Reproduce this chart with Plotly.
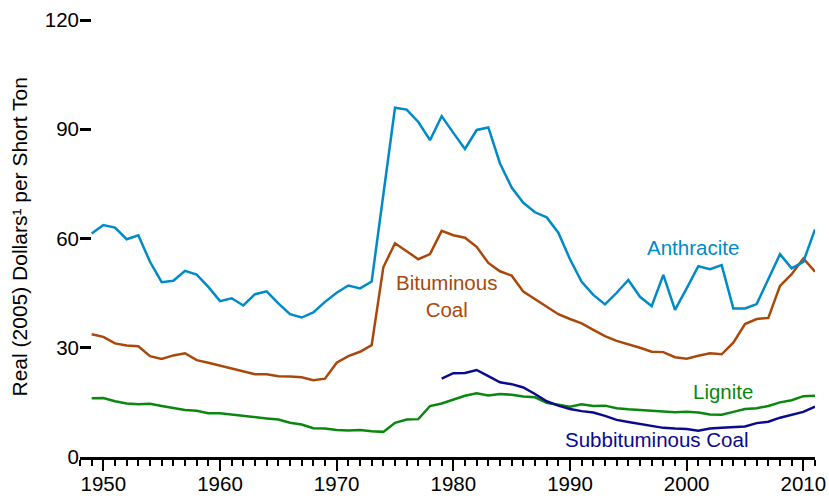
import plotly.graph_objects as go

years = list(range(1949, 2012))

anthracite = [61.4, 63.7, 63.0, 59.8, 60.9, 53.6, 48.0, 48.4, 51.1, 50.1,
              46.7, 42.8, 43.6, 41.6, 44.7, 45.5, 42.2, 39.2, 38.3, 39.7,
              42.6, 45.1, 47.1, 46.3, 48.2, 72.0, 95.9, 95.4, 92.0, 87.0,
              93.6, 89.0, 84.6, 89.8, 90.5, 80.6, 74.0, 69.8, 67.2, 65.8,
              61.6, 54.3, 48.1, 44.5, 41.9, 45.1, 48.6, 44.0, 41.4, 50.0,
              40.4, 46.3, 52.4, 51.6, 52.7, 40.8, 40.8, 42.0, 48.8, 55.7,
              51.8, 53.6, 62.5]

bituminous = [33.7, 33.0, 31.2, 30.6, 30.4, 27.7, 26.9, 27.9, 28.5, 26.6,
              25.9, 25.1, 24.2, 23.4, 22.7, 22.7, 22.2, 22.1, 21.9, 21.1,
              21.5, 25.9, 27.7, 28.9, 30.7, 52.1, 58.7, 56.5, 54.3, 55.7,
              62.1, 60.9, 60.2, 57.7, 53.3, 51.0, 49.8, 45.4, 43.3, 41.1,
              39.2, 37.9, 36.7, 34.9, 33.2, 31.9, 31.0, 30.0, 28.9, 28.8,
              27.4, 27.0, 27.8, 28.5, 28.2, 31.4, 36.5, 37.9, 38.2, 47.0,
              50.2, 54.5, 50.9]

lignite = [16.1, 16.2, 15.3, 14.7, 14.5, 14.6, 14.0, 13.5, 12.9, 12.7,
           12.0, 12.0, 11.6, 11.3, 10.9, 10.6, 10.3, 9.4, 8.9, 7.9,
           7.8, 7.4, 7.3, 7.4, 7.1, 6.9, 9.4, 10.3, 10.4, 14.0,
           14.7, 15.8, 16.8, 17.5, 16.9, 17.3, 17.1, 16.6, 16.4, 14.9,
           14.3, 13.8, 14.5, 14.0, 14.1, 13.4, 13.1, 12.9, 12.6, 12.4,
           12.3, 12.4, 12.2, 11.7, 11.6, 12.4, 13.2, 13.4, 14.0, 15.0,
           15.6, 16.7, 16.8]

sub_years = list(range(1979, 2012))
subbituminous = [21.5, 23.0, 23.1, 23.9, 22.2, 20.5, 20.0, 19.1, 17.3, 15.3,
                 14.1, 13.2, 12.6, 12.2, 11.3, 10.2, 9.6, 9.1, 8.5, 8.0,
                 7.8, 7.7, 7.2, 7.8, 8.0, 8.2, 8.4, 9.3, 9.7, 10.8,
                 11.7, 12.4, 13.8]

y_ticks = [0, 30, 60, 90, 120]

C_ANTH = "rgb(0,138,200)"
C_BIT = "rgb(170,72,12)"
C_LIG = "rgb(10,135,15)"
C_SUB = "rgb(10,10,140)"

fig = go.Figure()
fig.add_trace(go.Scatter(x=years, y=lignite, mode="lines",
                         line=dict(color=C_LIG, width=2.5), name="Lignite"))
fig.add_trace(go.Scatter(x=sub_years, y=subbituminous, mode="lines",
                         line=dict(color=C_SUB, width=2.5), name="Subbituminous Coal"))
fig.add_trace(go.Scatter(x=years, y=bituminous, mode="lines",
                         line=dict(color=C_BIT, width=2.5), name="Bituminous Coal"))
fig.add_trace(go.Scatter(x=years, y=anthracite, mode="lines",
                         line=dict(color=C_ANTH, width=2.5), name="Anthracite"))

font_family = "Liberation Sans, Arial, sans-serif"

fig.update_layout(
    width=829, height=498,
    margin=dict(l=80, r=14, t=18, b=41),
    paper_bgcolor="white", plot_bgcolor="white",
    showlegend=False,
    font=dict(family=font_family, color="black"),
    xaxis=dict(
        range=[1948, 2011], showgrid=False, zeroline=False, automargin=False,
        showline=True, linecolor="black", linewidth=2.5,
        ticks="outside", tick0=1950, dtick=10, ticklen=11, tickwidth=2,
        tickcolor="black", tickfont=dict(size=20.5, family=font_family),
        ticklabelstandoff=-4,
        minor=dict(dtick=1, tick0=1948, ticks="outside", ticklen=6,
                   tickwidth=2, tickcolor="black", showgrid=False),
    ),
    yaxis=dict(
        range=[0, 120.55], showgrid=False, zeroline=False, showline=False,
        automargin=False,
        tickvals=y_ticks, ticks="inside", ticklen=11,
        tickwidth=3, tickcolor="black",
        tickfont=dict(size=20.5, family=font_family),
    ),
)

ann_font = dict(size=20.5, family=font_family)
fig.add_annotation(x=0, y=0.5, xref="paper", yref="paper", xshift=-61,
                   text="Real (2005) Dollars¹ per Short Ton", textangle=-90,
                   showarrow=False, xanchor="center", yanchor="middle",
                   font=dict(size=21, family=font_family, color="black"))
fig.add_annotation(x=2000.5, y=57.5, text="Anthracite", showarrow=False,
                   font=dict(color=C_ANTH, **ann_font))
fig.add_annotation(x=1979.4, y=44.2, text="Bituminous<br>Coal", showarrow=False,
                   font=dict(color=C_BIT, **ann_font))
fig.add_annotation(x=2003.1, y=17.9, text="Lignite", showarrow=False,
                   font=dict(color=C_LIG, **ann_font))
fig.add_annotation(x=1997.4, y=4.7, text="Subbituminous Coal", showarrow=False,
                   font=dict(color=C_SUB, **ann_font))

fig.write_html("out.html", config={"displayModeBar": False},
               post_script="document.body.style.margin='0px';document.body.style.overflow='hidden';")
